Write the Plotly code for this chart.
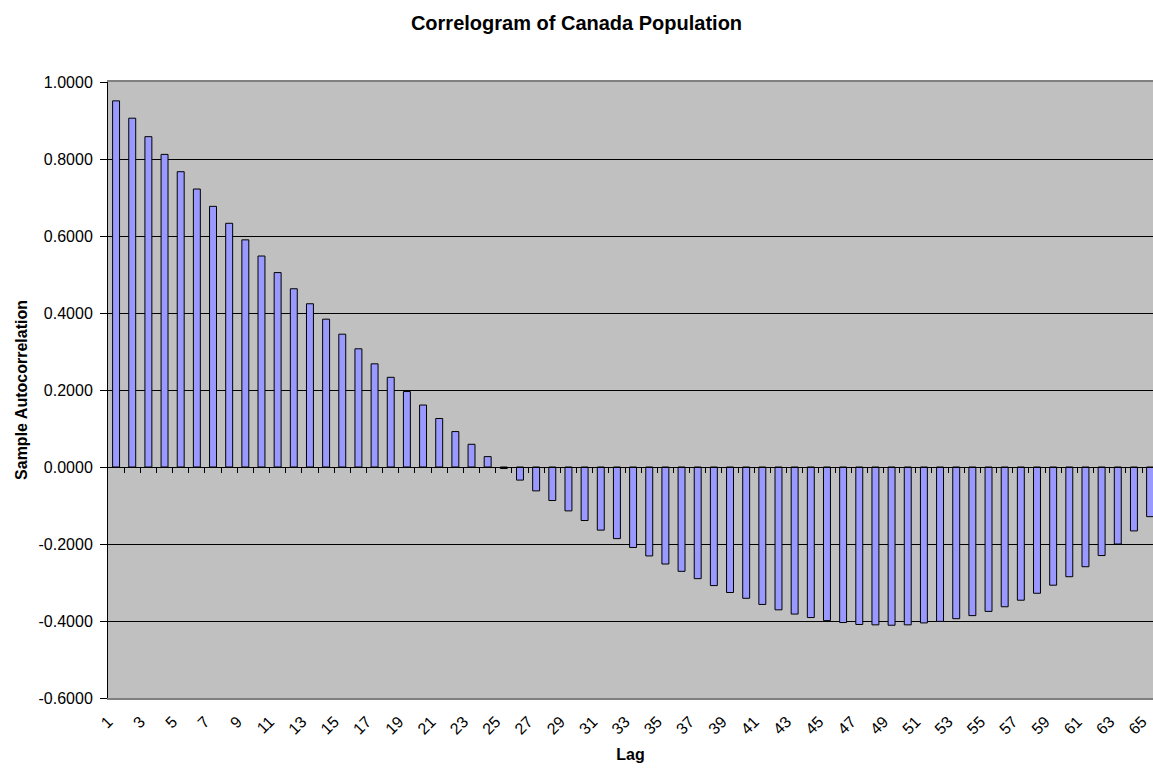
import plotly.graph_objects as go

lags = list(range(1, 66))
acf = [0.951, 0.906, 0.858, 0.812, 0.767, 0.722, 0.677, 0.633, 0.590, 0.548,
       0.505, 0.463, 0.424, 0.384, 0.345, 0.307, 0.268, 0.233, 0.196, 0.161,
       0.126, 0.092, 0.059, 0.027, -0.004, -0.034, -0.062, -0.087, -0.114, -0.139,
       -0.164, -0.186, -0.209, -0.231, -0.252, -0.271, -0.290, -0.308, -0.326, -0.341,
       -0.357, -0.371, -0.382, -0.391, -0.399, -0.404, -0.409, -0.410, -0.411, -0.410,
       -0.405, -0.401, -0.394, -0.386, -0.375, -0.363, -0.346, -0.328, -0.307, -0.285,
       -0.259, -0.230, -0.200, -0.166, -0.129]
x_ticks = list(range(1, 66, 2))
y_ticks = [-0.6, -0.4, -0.2, 0.0, 0.2, 0.4, 0.6, 0.8, 1.0]
y_tick_labels = ["-0.6000", "-0.4000", "-0.2000", "0.0000", "0.2000",
                 "0.4000", "0.6000", "0.8000", "1.0000"]

y_min, y_max = -0.6, 1.0
x_rng = [0.5, 65.18]
FONT = "Liberation Sans, Arial, sans-serif"

fig = go.Figure()
fig.add_trace(go.Bar(
    x=lags, y=acf, width=0.43,
    marker=dict(color="#9999FF", line=dict(color="black", width=1)),
    showlegend=False,
))
# dummy trace on the zero-crossing axis so it renders
fig.add_trace(go.Scatter(x=[None], y=[None], xaxis="x2", showlegend=False))

fig.update_layout(
    width=1153, height=770,
    margin=dict(l=108, r=0, t=82, b=72),
    paper_bgcolor="white", plot_bgcolor="#C0C0C0",
    font=dict(family=FONT, color="black", size=16),
    title=dict(text="<b>Correlogram of Canada Population</b>",
               font=dict(size=20, family=FONT, color="black"),
               x=0.5, xanchor="center", xref="container",
               y=1 - 23 / 770, yref="container", yanchor="middle"),
    xaxis=dict(range=x_rng, tickmode="array", tickvals=x_ticks,
               ticktext=[str(v) for v in x_ticks], tickangle=-45,
               ticklabeloverflow="allow", ticklabelshift=-8,
               ticklabelstandoff=6,
               showgrid=False, zeroline=False, showline=True,
               linecolor="#808080", linewidth=2, mirror=True, ticks="",
               tickfont=dict(size=16),
               title=dict(text="<b>Lag</b>", font=dict(size=16), standoff=12)),
    xaxis2=dict(range=x_rng, overlaying="x", anchor="free",
                position=(0 - y_min) / (y_max - y_min),
                showline=True, linecolor="black", linewidth=1,
                tickmode="array", tickvals=[v + 0.5 for v in lags[:-1]],
                ticks="outside", ticklen=5, tickcolor="black",
                showticklabels=False, showgrid=False, zeroline=False),
    yaxis=dict(range=[y_min, y_max], tickmode="array", tickvals=y_ticks,
               ticktext=y_tick_labels,
               showgrid=True, gridcolor="black", gridwidth=1,
               zeroline=False, showline=True, linecolor="black", linewidth=1,
               ticks="outside", ticklen=7, tickcolor="black",
               ticklabelstandoff=4,
               tickfont=dict(size=16),
               title=dict(text="<b>Sample Autocorrelation</b>",
                          font=dict(size=16), standoff=6)),
    bargap=0.57,
)

fig.write_html("out.html")
